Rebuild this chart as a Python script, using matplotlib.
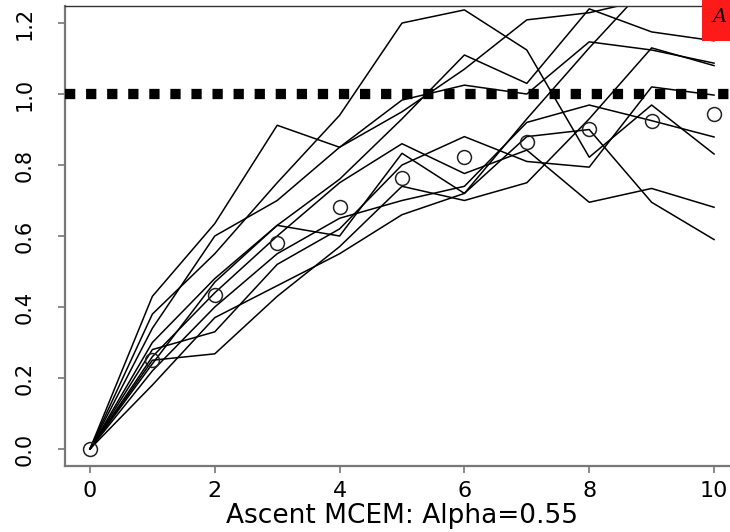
import matplotlib
matplotlib.use('Agg')
import matplotlib.pyplot as plt
from matplotlib.patches import Rectangle

# iterations and the averaged estimate (open circles)
iterations = [0, 1, 2, 3, 4, 5, 6, 7, 8, 9, 10]
mean_est = [0.0, 0.251, 0.435, 0.579, 0.681, 0.763, 0.822, 0.864, 0.901, 0.924, 0.943]
true_value = 1.0

# individual MCEM runs
run_1 = [0.0, 0.30, 0.48, 0.63, 0.76, 0.93, 1.11, 1.03, 1.24, 1.175, 1.15]
run_2 = [0.0, 0.43, 0.635, 0.912, 0.85, 0.983, 1.025, 1.00, 1.147, 1.124, 1.087]
run_3 = [0.0, 0.25, 0.268, 0.43, 0.57, 0.74, 0.70, 0.75, 0.93, 1.13, 1.08]
run_4 = [0.0, 0.28, 0.33, 0.52, 0.62, 0.80, 0.88, 0.81, 0.794, 1.02, 0.997]
run_5 = [0.0, 0.22, 0.40, 0.55, 0.65, 0.70, 0.74, 0.92, 0.969, 0.925, 0.879]
run_6 = [0.0, 0.38, 0.55, 0.75, 0.94, 1.20, 1.237, 1.124, 0.822, 0.969, 0.831]
run_7 = [0.0, 0.26, 0.44, 0.60, 0.75, 0.86, 0.776, 0.842, 0.695, 0.734, 0.681]
run_8 = [0.0, 0.18, 0.37, 0.46, 0.55, 0.66, 0.72, 0.88, 0.90, 0.695, 0.59]
run_9 = [0.0, 0.34, 0.60, 0.70, 0.85, 0.95, 1.07, 1.209, 1.229, 1.27, 1.30]
run_10 = [0.0, 0.24, 0.47, 0.63, 0.60, 0.833, 0.72, 0.93, 1.13, 1.32, 1.35]
runs = [run_1, run_2, run_3, run_4, run_5, run_6, run_7, run_8, run_9, run_10]

xticks = [0, 2, 4, 6, 8, 10]
yticks = [0.0, 0.2, 0.4, 0.6, 0.8, 1.0, 1.2]

fig = plt.figure(figsize=(7.3, 5.32), dpi=100)
ax = fig.add_axes([65 / 730, 66 / 532, 674 / 730, 460 / 532])

for run in runs:
    ax.plot(iterations, run, color='black', lw=1.1, zorder=2)

ax.plot(iterations, mean_est, 'o', ms=10, mfc='none', mec='#222222', mew=1.1, zorder=3)

ax.axhline(true_value, color='black', lw=7.4, linestyle=(0, (1, 1.05)),
           dash_capstyle='butt', zorder=4)

ax.set_xlim(-0.4, 10.4)
ax.set_ylim(-0.048, 1.248)
ax.set_xticks(xticks)
ax.set_yticks(yticks)
ax.set_xticklabels([str(t) for t in xticks])
ax.set_yticklabels(['%.1f' % t for t in yticks])

ax.spines['right'].set_visible(False)
ax.spines['top'].set_color('#333333')
ax.spines['top'].set_linewidth(1.0)
for s in ['left', 'bottom']:
    ax.spines[s].set_color('#777777')
    ax.spines[s].set_linewidth(1.6)

ax.tick_params(axis='both', direction='out', length=5, width=1.2, color='#777777')
ax.tick_params(axis='x', labelsize=16, pad=6)
ax.tick_params(axis='y', labelsize=15, pad=17)
for lbl in ax.get_yticklabels():
    lbl.set_rotation(90)
    lbl.set_va('center')

ax.set_xlabel('Ascent MCEM: Alpha=0.55', fontsize=19, labelpad=1)

# red label box in the top right corner
fig.patches.append(Rectangle((702 / 730, 491 / 532), 0.1, 0.1, transform=fig.transFigure,
                             facecolor='#ff1a1a', edgecolor='none', zorder=10))
fig.text(712 / 730, 510 / 532, 'A', fontsize=14, family='DejaVu Serif', style='italic',
         color='black', zorder=11)

fig.savefig('out.png', dpi=100)
